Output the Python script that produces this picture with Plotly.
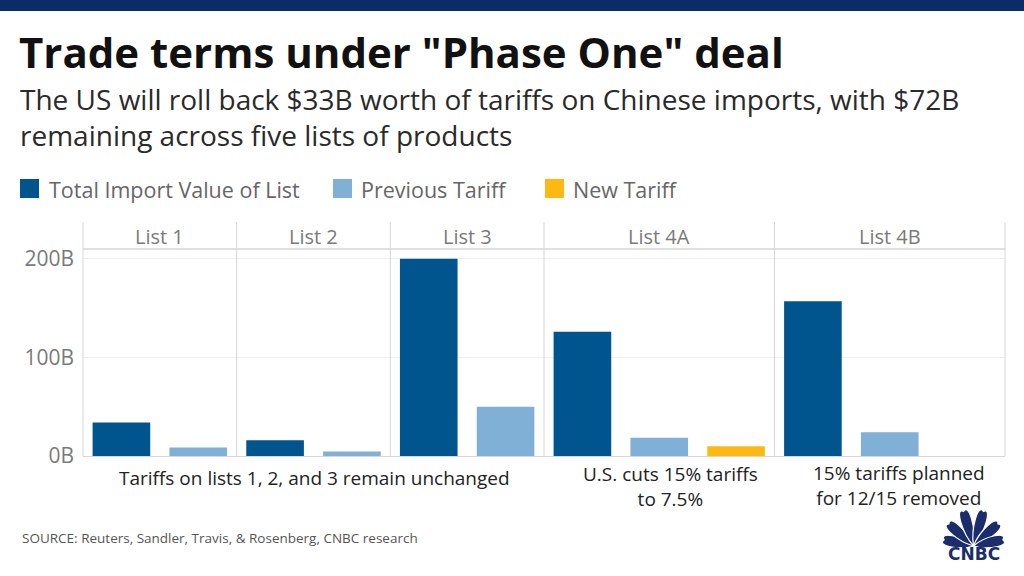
import math

import plotly.graph_objects as go
from plotly.subplots import make_subplots

# ── data ──────────────────────────────────────────────────────────────────────
LISTS = ["List 1", "List 2", "List 3", "List 4A", "List 4B"]
SERIES = ["Total Import Value of List", "Previous Tariff", "New Tariff"]
TOTAL_IMPORT = [34, 16, 200, 126, 157]          # $B
PREVIOUS_TARIFF = [8.5, 4.5, 50, 18.5, 24]      # $B
NEW_TARIFF = [None, None, None, 10, 0]          # $B, None = not shown
Y_TICKS = [0, 100, 200]
Y_TICK_TEXT = ["0B", "100B", "200B"]
NOTES = [
    "Tariffs on lists 1, 2, and 3 remain unchanged",
    "U.S. cuts 15% tariffs<br>to 7.5%",
    "15% tariffs planned<br>for 12/15 removed",
]

TITLE = 'Trade terms under "Phase One" deal'
SUBTITLE = ("The US will roll back $33B worth of tariffs on Chinese imports, with $72B"
            "<br>remaining across five lists of products")
SOURCE = "SOURCE: Reuters, Sandler, Travis, & Rosenberg, CNBC research"

COLORS = ["#00558f", "#80b0d6", "#fdb913"]
NAVY = "#1b2e6b"
FONT = "Open Sans"

# ── pixel helpers (plot area is 83..1005 x 249..456 of a 1024x576 canvas) ────
L, R, T, B = 83, 1005, 249, 456


def px(x):
    return (x - L) / (R - L)


def py(y):
    return (B - y) / (B - T)


# ── figure ────────────────────────────────────────────────────────────────────
values = list(zip(TOTAL_IMPORT, PREVIOUS_TARIFF, NEW_TARIFF))
slots = [sum(v is not None for v in row) for row in values]

fig = make_subplots(rows=1, cols=len(LISTS), column_widths=slots,
                    horizontal_spacing=0, shared_yaxes=True)

for i, row in enumerate(values):
    cats = [SERIES[j] for j, v in enumerate(row) if v is not None]
    for j, v in enumerate(row):
        if v is None:
            continue
        fig.add_trace(go.Bar(x=[SERIES[j]], y=[v], marker_color=COLORS[j],
                             marker_line_width=0, showlegend=False,
                             name=SERIES[j]),
                      row=1, col=i + 1)
    fig.update_xaxes(categoryorder="array", categoryarray=cats,
                     range=[-0.5, len(cats) - 0.5], showticklabels=False,
                     showgrid=False, showline=True, linecolor="#d6d6d6",
                     linewidth=1, ticks="", row=1, col=i + 1)

fig.update_yaxes(range=[0, 210], tickvals=Y_TICKS, ticktext=Y_TICK_TEXT,
                 showgrid=True, gridcolor="#f0f0f0", gridwidth=1,
                 zeroline=False, showline=False, ticks="",
                 tickfont=dict(family=FONT, size=21, color="#7a7a7a"),
                 ticklabelstandoff=8)

shapes = []
annotations = []

# top navy band
shapes.append(dict(type="rect", xref="paper", yref="paper",
                   x0=px(0), x1=px(1024), y0=py(11), y1=py(0),
                   fillcolor="#0b2d67", line_width=0, layer="above"))

# panel frame: dividers, header line
bounds = [0]
for s in slots:
    bounds.append(bounds[-1] + s)
for b in bounds:
    xb = b / bounds[-1]
    shapes.append(dict(type="line", xref="paper", yref="paper",
                       x0=xb, x1=xb, y0=0, y1=py(222),
                       line=dict(color="#d6d6d6", width=1)))
shapes.append(dict(type="line", xref="paper", yref="paper",
                   x0=0, x1=1, y0=1, y1=1,
                   line=dict(color="#d6d6d6", width=1.5)))

# panel headers
for i, name in enumerate(LISTS):
    annotations.append(dict(text=name, xref=f"x{i + 1 if i else ''} domain",
                            yref="paper", x=0.5, y=py(236), showarrow=False,
                            xanchor="center", yanchor="middle",
                            font=dict(family=FONT, size=20, color="#7a7a7a")))

# title + subtitle
annotations.append(dict(text=f"<b>{TITLE}</b>", xref="paper", yref="paper",
                        x=px(17), y=py(51), xanchor="left", yanchor="middle",
                        showarrow=False,
                        font=dict(family=FONT, size=42, color="#111111")))
annotations.append(dict(text=SUBTITLE, xref="paper", yref="paper",
                        x=px(18), y=py(117), xanchor="left", yanchor="middle",
                        align="left", showarrow=False,
                        font=dict(family=FONT, size=28, color="#2a2a2a")))

# legend (drawn by hand to match the large swatches)
legend_x = [(20, 47), (333, 359), (545, 571)]
for (sx, tx), name, color in zip(legend_x, SERIES, COLORS):
    shapes.append(dict(type="rect", xref="paper", yref="paper",
                       x0=px(sx), x1=px(sx + 19), y0=py(198), y1=py(179),
                       fillcolor=color, line_width=0))
    annotations.append(dict(text=name, xref="paper", yref="paper",
                            x=px(tx), y=py(189), xanchor="left",
                            yanchor="middle", showarrow=False,
                            font=dict(family=FONT, size=21.5, color="#666666")))

# notes under the panels
note_pos = [(314, 478), (670, 486), (899, 485)]
for (nx, ny), note in zip(note_pos, NOTES):
    annotations.append(dict(text=note, xref="paper", yref="paper",
                            x=px(nx), y=py(ny), xanchor="center",
                            yanchor="middle", align="center", showarrow=False,
                            font=dict(family=FONT, size=19, color="#222222")))

# source
annotations.append(dict(text=SOURCE, xref="paper", yref="paper",
                        x=px(20), y=py(538), xanchor="left", yanchor="middle",
                        showarrow=False,
                        font=dict(family=FONT, size=13.5, color="#555555")))

# CNBC peacock (simplified)
bx, by = 973.5, 546
feathers = [(168, 30), (138, 33), (106, 36), (74, 36), (42, 33), (12, 30)]
for ang, r in feathers:
    a = math.radians(ang)
    dx, dy = math.cos(a), -math.sin(a)
    nx, ny = -dy, dx
    w = 7.5
    tx, ty = bx + dx * r, by + dy * r
    c1 = (bx + dx * r * 0.45 + nx * w, by + dy * r * 0.45 + ny * w)
    c2 = (tx + dx * 7 + nx * w, ty + dy * 7 + ny * w)
    c3 = (tx + dx * 7 - nx * w, ty + dy * 7 - ny * w)
    c4 = (bx + dx * r * 0.45 - nx * w, by + dy * r * 0.45 - ny * w)
    pts = [(bx, by), c1, c2, (tx, ty), c3, c4, (bx, by)]
    p = [f"{px(x):.5f},{py(y):.5f}" for x, y in pts]
    path = f"M{p[0]} C{p[1]} {p[2]} {p[3]} C{p[4]} {p[5]} {p[6]} Z"
    shapes.append(dict(type="path", xref="paper", yref="paper", path=path,
                       fillcolor=NAVY, line=dict(color="white", width=1.2)))
annotations.append(dict(text="<b>CNBC</b>", xref="paper", yref="paper",
                        x=px(973.5), y=py(554), xanchor="center",
                        yanchor="middle", showarrow=False,
                        font=dict(family="DejaVu Sans", size=17, color=NAVY)))

fig.update_layout(
    width=1024,
    height=576,
    barmode="overlay",
    bargap=0.25,
    showlegend=False,
    paper_bgcolor="white",
    plot_bgcolor="white",
    margin=dict(l=L, r=1024 - R, t=T, b=576 - B),
    shapes=shapes,
    annotations=annotations,
    font=dict(family=FONT),
)

# the page body has a default 8px margin; drop it so the canvas sits at 0,0
fig.write_html("out.html", config={"displayModeBar": False},
               post_script="document.body.style.margin='0';")
